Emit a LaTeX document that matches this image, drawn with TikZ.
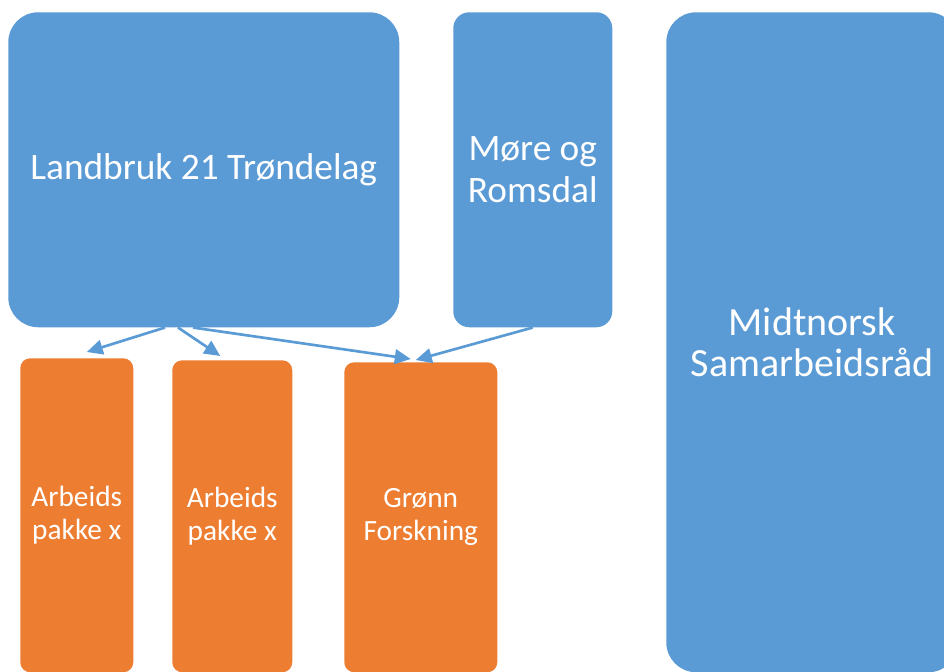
\documentclass[tikz,border=0pt]{standalone}
\usepackage{fontspec}
\setmainfont{Carlito}
\usetikzlibrary{arrows.meta}

\definecolor{boxblue}{HTML}{5B9BD5}
\definecolor{boxorange}{HTML}{ED7D31}

\begin{document}
\begin{tikzpicture}[x=0.75pt, y=-0.75pt,
    bluebox/.style={fill=boxblue, text=white, anchor=north west, align=center,
        inner sep=0pt, font=\fontsize{28}{31.5}\selectfont},
    orangebox/.style={fill=boxorange, text=white, anchor=north west, align=center,
        inner sep=0pt, rounded corners=7.5pt, font=\fontsize{22}{25}\selectfont},
    link/.style={draw=boxblue, line width=2pt, -{Triangle[length=12pt,width=11pt]}}]
    \useasboundingbox (0,0) rectangle (944,671);
    \clip (0,0) rectangle (944,671);

    % Top row
    \node[bluebox, rounded corners=22.5pt, minimum width=293.25pt, minimum height=236.25pt]
        (land) at (8,12) {Landbruk 21 Trøndelag};
    \node[bluebox, rounded corners=12pt, minimum width=119.25pt, minimum height=236.25pt]
        (more) at (453,12) {Møre og\\Romsdal};
    \node[bluebox, rounded corners=22.5pt, minimum width=219pt, minimum height=495pt,
        font=\fontsize{30}{31}\selectfont]
        (midt) at (666,12) {Midtnorsk\\Samarbeidsråd};

    % Work packages
    \node[orangebox, minimum width=84.75pt, minimum height=235.5pt]
        (ap1) at (20,358) {Arbeids\\pakke x};
    \node[orangebox, minimum width=90pt, minimum height=234pt]
        (ap2) at (172,360) {Arbeids\\pakke x};
    \node[orangebox, minimum width=114.75pt, minimum height=232.5pt]
        (gronn) at (344,362) {Grønn\\Forskning};

    % Arrows
    \draw[link] ([shift={(157,0)}]land.south west) -- ([shift={(10,-6)}]ap1.north);
    \draw[link] ([shift={(170,0)}]land.south west) -- ([shift={(-12,-4)}]ap2.north);
    \draw[link] ([shift={(185,0)}]land.south west) -- ([shift={(-10,-3)}]gronn.north);
    \draw[link] (more.south) -- ([shift={(-5,-2)}]gronn.north);
\end{tikzpicture}
\end{document}
